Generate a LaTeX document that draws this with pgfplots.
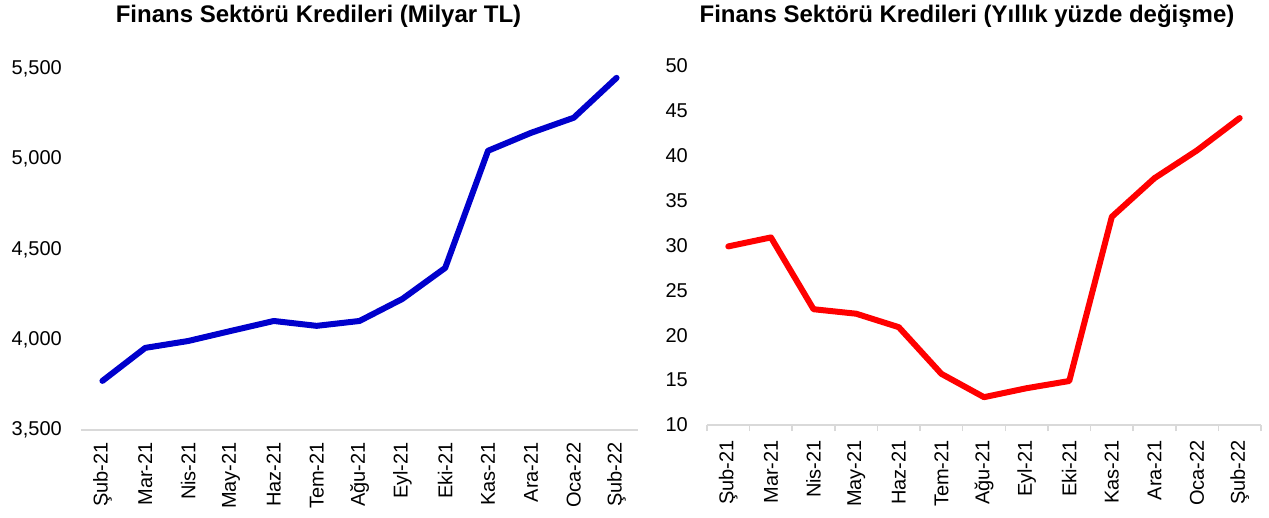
\documentclass[border=0pt]{standalone}
\usepackage{fontspec}
\setmainfont{Liberation Sans}
\usepackage{pgfplots}
\pgfplotsset{compat=1.18}
\definecolor{lineblue}{HTML}{0000CC}
\definecolor{linered}{HTML}{FF0000}
\definecolor{axgray}{HTML}{D9D9D9}
\pgfplotsset{
  base/.style={
    scale only axis,
    axis lines*=left,
    y axis line style={draw=none},
    x axis line style={axgray, line width=1.5pt},
    xmin=-0.5, xmax=12.5,
    xtick={0,...,12},
    xticklabels={Şub-21,Mar-21,Nis-21,May-21,Haz-21,Tem-21,Ağu-21,Eyl-21,Eki-21,Kas-21,Ara-21,Oca-22,Şub-22},
    major tick length=0pt,
    ticklabel style={font=\fontsize{20}{24}\selectfont},
    yticklabel style={anchor=east, inner sep=0pt, xshift=-19pt},
    /pgf/number format/assume math mode=true,
    /pgf/number format/1000 sep={,},
    clip=false,
    title style={font=\bfseries\fontsize{24}{28}\selectfont, anchor=base, inner sep=0pt},
  }
}
\begin{document}
\begin{tikzpicture}[x=1pt,y=1pt]
\useasboundingbox (0,0) rectangle (1269,-518);
\begin{axis}[base,
  at={(81pt,-430pt)}, anchor=south west,
  width=557pt, height=361pt,
  ymin=3500, ymax=5500, ytick={3500,4000,4500,5000,5500},
  xticklabel style={rotate=90, anchor=east, inner sep=0pt, xshift=-12pt},
  title={Finans Sektörü Kredileri (Milyar TL)},
  title style={at={(axis description cs:0.5,1)}, yshift=40pt, xshift=-41pt},
]
\addplot[lineblue, line width=6pt, line join=round, line cap=round] coordinates {
(0,3772) (1,3955) (2,3993) (3,4049) (4,4104) (5,4077) (6,4104) (7,4226) (8,4398) (9,5047) (10,5146) (11,5230) (12,5451)
};
\end{axis}
\begin{axis}[base,
  at={(707pt,-425pt)}, anchor=south west,
  width=554pt, height=359pt,
  ymin=10, ymax=50, ytick={10,15,...,50},
  xticklabel style={rotate=90, anchor=east, inner sep=0pt, xshift=-15pt},
  extra x ticks={-0.5,0.5,...,12.5},
  extra x tick labels={},
  extra x tick style={major tick length=6pt, tick align=outside, tick style={draw=axgray, line width=1.5pt}},
  title={Finans Sektörü Kredileri (Yıllık yüzde değişme)},
  title style={at={(axis description cs:0.5,1)}, yshift=37pt, xshift=-17pt},
]
\addplot[linered, line width=6pt, line join=round, line cap=round] coordinates {
(0,29.9) (1,30.9) (2,22.9) (3,22.4) (4,20.9) (5,15.7) (6,13.1) (7,14.1) (8,14.9) (9,33.2) (10,37.5) (11,40.6) (12,44.2)
};
\end{axis}
\end{tikzpicture}
\end{document}
